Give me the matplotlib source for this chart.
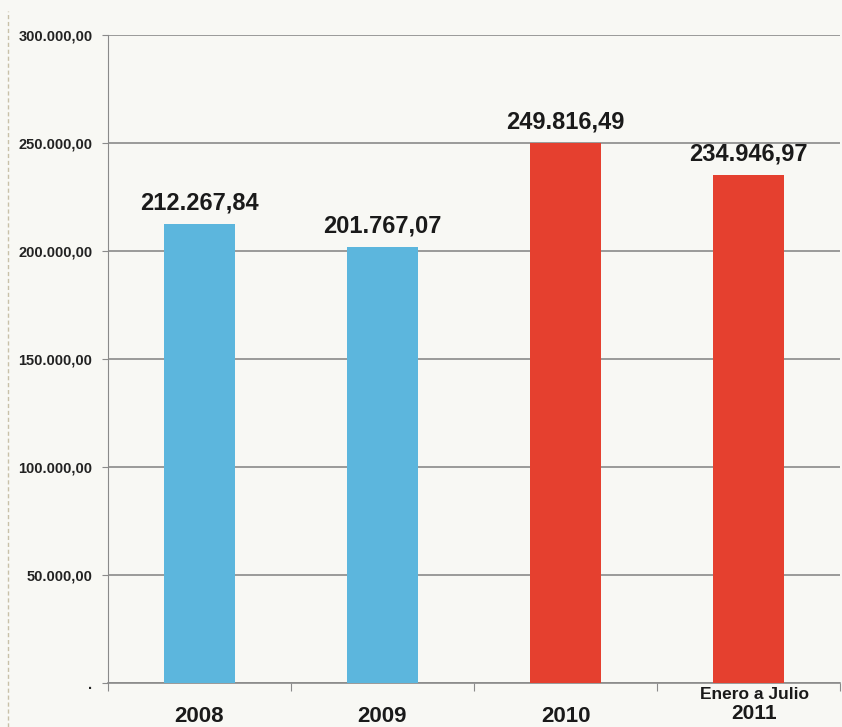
import matplotlib
matplotlib.use("Agg")
import matplotlib.pyplot as plt
import matplotlib.transforms as mtransforms
from matplotlib.lines import Line2D

# importes anuales
categorias = ["2008", "2009", "2010", "2011"]
subtitulos = ["", "", "", "Enero a Julio"]
valores = [212267.84, 201767.07, 249816.49, 234946.97]
etiquetas = ["212.267,84", "201.767,07", "249.816,49", "234.946,97"]
colores = ["#5cb6dd", "#5cb6dd", "#e5402f", "#e5402f"]

yticks = [0, 50000, 100000, 150000, 200000, 250000, 300000]
ylabels = [".", "50.000,00", "100.000,00", "150.000,00", "200.000,00",
           "250.000,00", "300.000,00"]

plt.rcParams["font.family"] = ["Liberation Sans", "DejaVu Sans"]

fondo = "#f8f8f4"
fig = plt.figure(figsize=(8.42, 7.27), dpi=100, facecolor=fondo)
ax = fig.add_axes([0.128, 0.0605, 0.87, 0.8915])
ax.set_facecolor(fondo)

x = range(len(categorias))
ax.bar(x, valores, width=0.39, color=colores, zorder=3)

for xi, v, txt in zip(x, valores, etiquetas):
    ax.annotate(txt, (xi, v), xytext=(0, 7), textcoords="offset points",
                ha="center", va="bottom", fontsize=17, fontweight="bold",
                color="#1a1a1a")

ax.set_xlim(-0.5, 3.5)
ax.set_ylim(0, 300000)
ax.set_yticks(yticks)
ax.set_yticklabels(ylabels, fontsize=10.5, fontweight="bold", color="#222222")
ax.yaxis.grid(True, color="#8a8a8a", linewidth=1.2, zorder=0)
ax.tick_params(axis="y", length=4, color="#8a8a8a", pad=7)

# marcas entre categorias
ax.set_xticks([-0.5, 0.5, 1.5, 2.5, 3.5])
ax.set_xticklabels([])
ax.tick_params(axis="x", length=6, color="#8a8a8a", direction="out")

trans = mtransforms.blended_transform_factory(ax.transData, ax.transAxes)
for xi, cat, sub in zip(x, categorias, subtitulos):
    if sub:
        ax.text(xi + 0.03, -0.006, sub, transform=trans, ha="center", va="top",
                fontsize=12.5, fontweight="bold", color="#1a1a1a")
        ax.text(xi + 0.03, -0.032, cat, transform=trans, ha="center", va="top",
                fontsize=15, fontweight="bold", color="#1a1a1a")
    else:
        ax.text(xi, -0.035, cat, transform=trans, ha="center", va="top",
                fontsize=16, fontweight="bold", color="#1a1a1a")

for lado in ["top", "right"]:
    ax.spines[lado].set_visible(False)
ax.spines["left"].set_color("#8a8a8a")
ax.spines["bottom"].set_color("#8a8a8a")
ax.spines["bottom"].set_linewidth(1.2)

# borde del papel
fig.add_artist(Line2D([0.009, 0.009], [0, 0.985], transform=fig.transFigure,
                      color="#c8c0a8", linewidth=1, linestyle=(0, (3, 2))))

fig.savefig("out.png", dpi=100, facecolor=fondo)
